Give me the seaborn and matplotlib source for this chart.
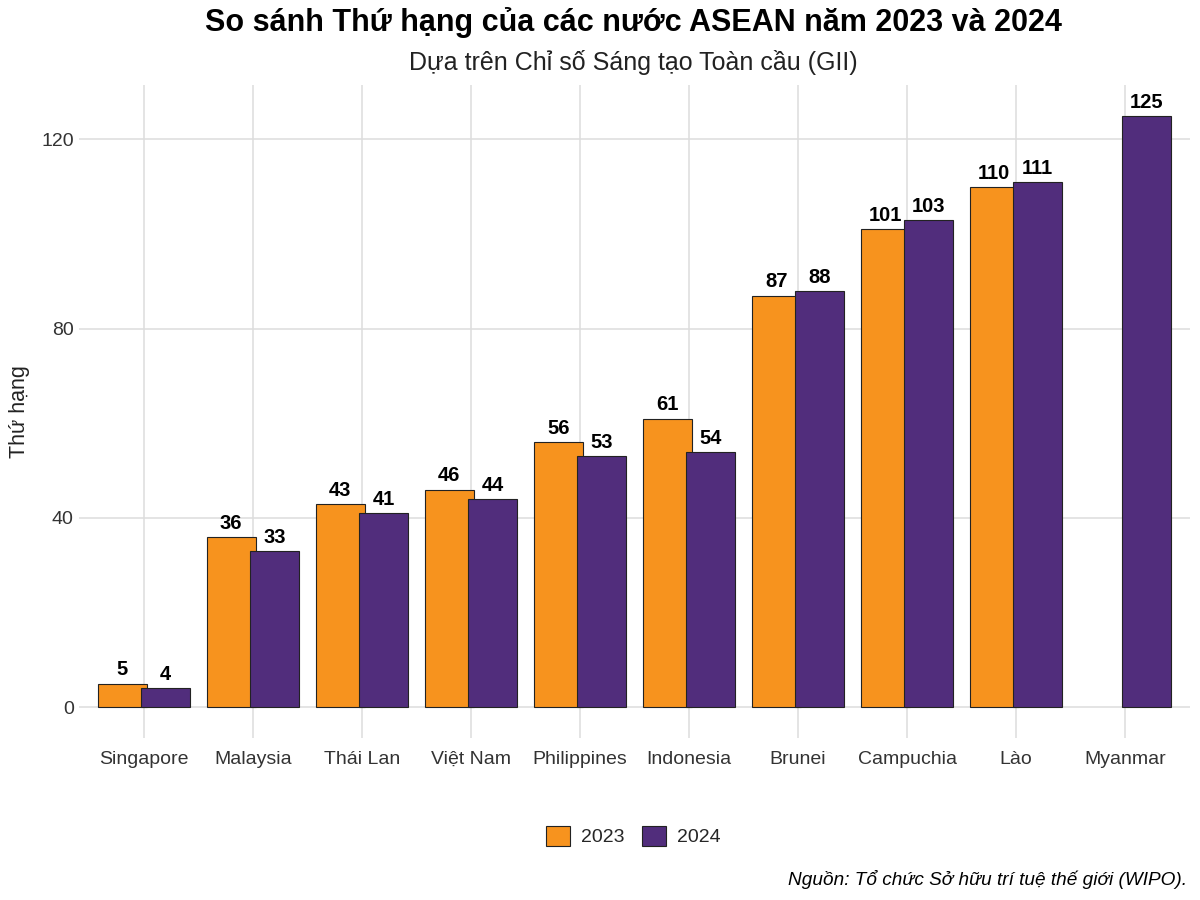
import pandas as pd
import numpy as np
import matplotlib
matplotlib.use('Agg')
import matplotlib.pyplot as plt
import seaborn as sns

# dữ liệu
countries = ['Singapore', 'Malaysia', 'Thái Lan', 'Việt Nam', 'Philippines',
             'Indonesia', 'Brunei', 'Campuchia', 'Lào', 'Myanmar']
rank_2023 = [5, 36, 43, 46, 56, 61, 87, 101, 110, np.nan]
rank_2024 = [4, 33, 41, 44, 53, 54, 88, 103, 111, 125]
years = ['2023', '2024']
colors = ['#F7931E', '#512D7C']

df = pd.DataFrame({
    'Country': countries * 2,
    'Year': [years[0]] * len(countries) + [years[1]] * len(countries),
    'Rank': rank_2023 + rank_2024,
})

sns.set_theme(style="whitegrid")
plt.rcParams['font.family'] = ['Liberation Sans', 'DejaVu Sans']

fig = plt.figure(figsize=(12, 9), dpi=100)
ax = fig.add_axes([0.0655, 0.18, 0.9265, 0.7256])

sns.barplot(data=df, x='Country', y='Rank', hue='Year', palette=colors,
            order=countries, hue_order=years, width=0.8, saturation=1,
            edgecolor='#222222', linewidth=0.8, ax=ax, legend=True)

# nới rộng thanh một chút (chồng lên nhau như bản gốc)
for p in ax.patches:
    if p.get_height() > 0 and not np.isnan(p.get_height()):
        cx = p.get_x() + p.get_width() / 2
        p.set_width(0.45)
        p.set_x(cx - 0.225)

for container in ax.containers:
    labels = ['' if np.isnan(v) else f'{int(v)}' for v in container.datavalues]
    ax.bar_label(container, labels=labels, padding=3, fontsize=14.5,
                 fontweight='bold', color='black')

ax.set_xlim(-0.6, 9.6)
ax.set_ylim(-6.5, 131.5)
ax.set_yticks([0, 40, 80, 120])
ax.set_xlabel('')
ax.set_ylabel('Thứ hạng', fontsize=15.5, color='#222222', labelpad=8)
ax.tick_params(axis='both', labelsize=14, colors='#333333', length=0)
ax.tick_params(axis='x', pad=9)
ax.grid(True, color='#DDDDDD', linewidth=1.1)
ax.set_axisbelow(True)
for s in ax.spines.values():
    s.set_visible(False)

handles, lbls = ax.get_legend_handles_labels()
ax.legend_.remove()
fig.legend(handles, lbls, loc='center', bbox_to_anchor=(0.528, 0.071), ncol=2,
           frameon=False, fontsize=14, handlelength=1.2, handleheight=1.2,
           columnspacing=0.9, handletextpad=0.6)

fig.text(0.528, 0.975, 'So sánh Thứ hạng của các nước ASEAN năm 2023 và 2024',
         ha='center', va='center', fontsize=22, fontweight='bold', color='black')
fig.text(0.528, 0.931, 'Dựa trên Chỉ số Sáng tạo Toàn cầu (GII)',
         ha='center', va='center', fontsize=18, color='#222222')
fig.text(0.989, 0.023, 'Nguồn: Tổ chức Sở hữu trí tuệ thế giới (WIPO).',
         ha='right', va='center', fontsize=13.7, style='italic', color='black')

fig.savefig('out.png', dpi=100)
